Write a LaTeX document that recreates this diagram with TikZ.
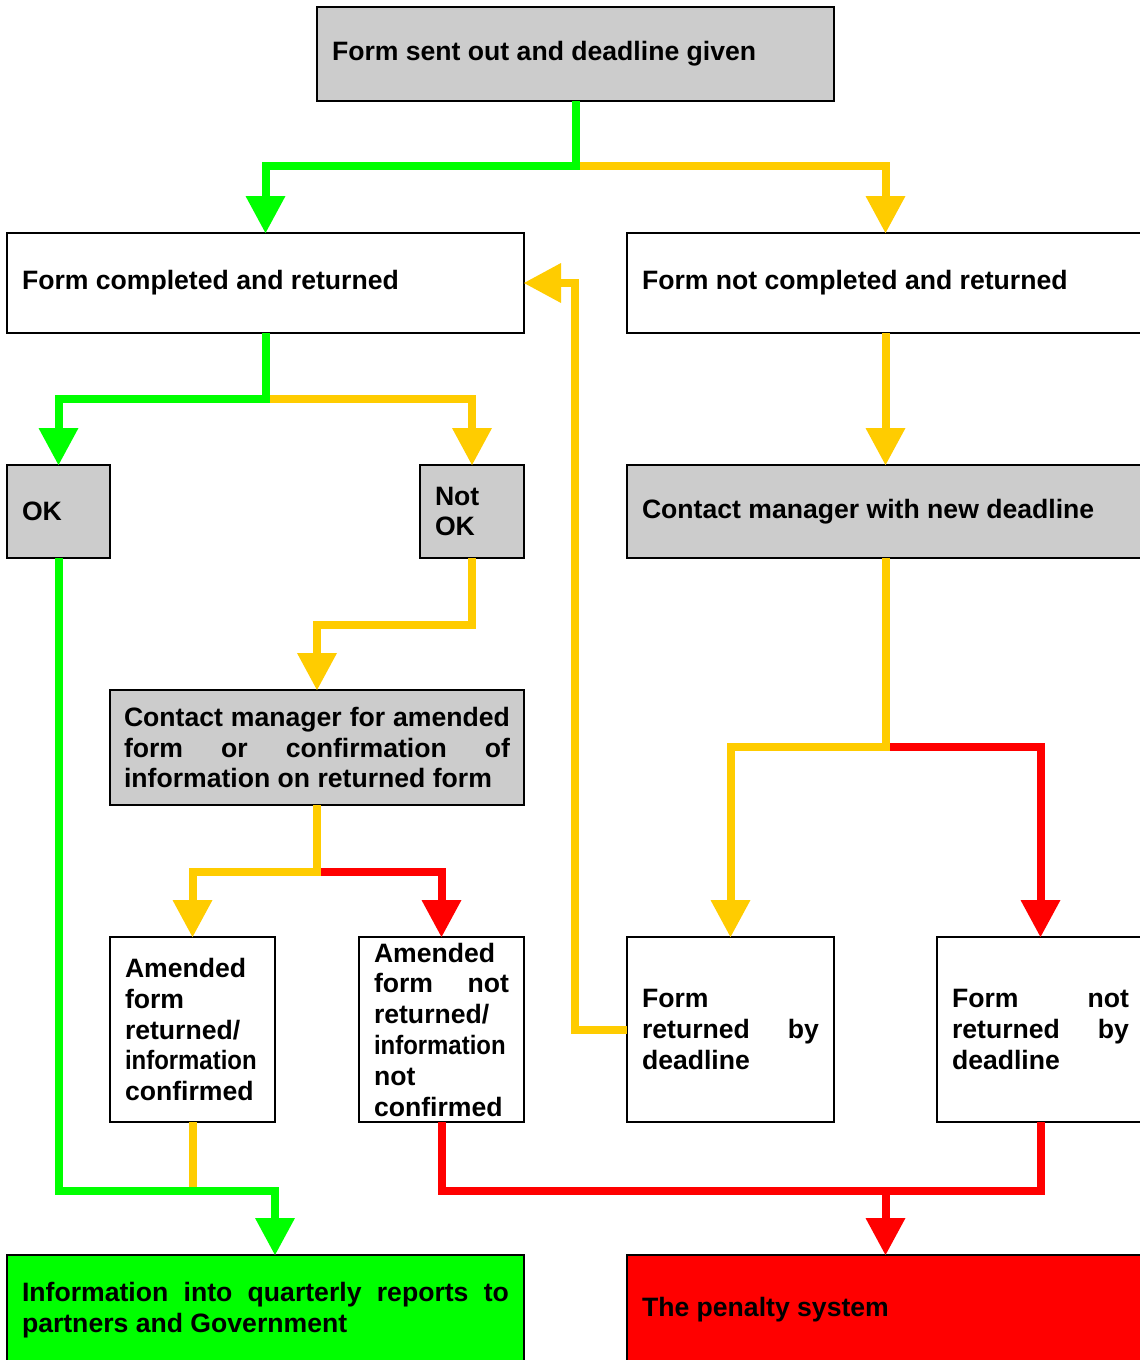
\documentclass[tikz,border=0pt]{standalone}
\usepackage{graphicx}
\usepackage{fontspec}
\setmainfont{Liberation Sans}
\usetikzlibrary{arrows.meta}
\definecolor{lgreen}{HTML}{00FF00}
\definecolor{lyellow}{HTML}{FFCC00}
\definecolor{lred}{HTML}{FF0000}
\definecolor{lgrey}{HTML}{CCCCCC}
\begin{document}
\begin{tikzpicture}[x=1pt,y=-1pt,
    box/.style={draw,line width=2.5pt,anchor=north west,outer sep=0pt,inner xsep=15pt,inner ysep=0pt,
        align=justify,font=\fontsize{26.6pt}{30.8pt}\selectfont\bfseries},
    grey/.style={box,fill=lgrey},
    conn/.style={line width=8pt,line join=miter},
    arr/.style={conn,-{Triangle[length=37pt,width=40pt,line width=0pt]}}]
    \useasboundingbox (0,0) rectangle (1140,1360);
    \fill[white] (0,0) rectangle (1140,1360);
    % boxes
    \node[grey,text width=487pt,minimum height=94pt] (sent) at (317,7) {Form sent out and deadline given};
    \node[box,text width=487pt,minimum height=100pt] (done) at (7,233) {Form completed and returned};
    \node[box,text width=487pt,minimum height=100pt] (notdone) at (627,233) {Form not completed and returned};
    \node[grey,text width=73pt,minimum height=93pt] (ok) at (7,465) {OK};
    \node[grey,text width=74pt,minimum height=93pt] (notok) at (420,465) {Not\\ OK};
    \node[grey,text width=487pt,minimum height=93pt] (newdl) at (627,465) {Contact manager with new deadline};
    \node[grey,text width=386pt,inner xsep=14pt,minimum height=115pt] (amend) at (110,690)
        {Contact manager for amended\linebreak form or confirmation of\linebreak information on returned form};
    \node[box,text width=135pt,minimum height=185pt] (ret) at (110,937)
        {Amended\\ form\\ returned/\\ \scalebox{0.9}[1]{information}\\ confirmed};
    \node[box,text width=135pt,minimum height=185pt] (noret) at (359,937)
        {Amended\\ form not\linebreak returned/\\ \scalebox{0.9}[1]{information}\\ not\\ confirmed};
    \node[box,text width=177pt,minimum height=185pt] (byd) at (627,937) {Form\\ returned by\linebreak deadline};
    \node[box,text width=177pt,minimum height=185pt] (notbyd) at (937,937) {Form not\linebreak returned by\linebreak deadline};
    \node[box,fill=lgreen,text width=487pt,minimum height=110pt] (info) at (7,1255)
        {Information into quarterly reports to\linebreak partners and Government};
    \node[box,fill=lred,text width=487pt,minimum height=110pt] (pen) at (627,1255) {The penalty system};
    % branch points
    \coordinate (s1) at (575.5,166);
    \coordinate (s2) at (265.5,399);
    \coordinate (s3) at (317,872);
    \coordinate (s4) at (885.5,747);
    \coordinate (s5) at (275,1191);
    \coordinate (s6) at (885.5,1191);
    % connectors
    \draw[arr,lyellow] (s1) -| (notdone.north);
    \draw[arr,lgreen] (sent.south) -- (s1) -| (done.north);
    \draw[arr,lyellow] (s2) -| (notok.north);
    \draw[arr,lgreen] (done.south) -- (s2) -| (ok.north);
    \draw[arr,lyellow] (notdone.south) -- (newdl.north);
    \draw[arr,lyellow] (notok.south) -- ++(0,67) -| (amend.north);
    \draw[arr,lred] (s3) -| (noret.north);
    \draw[arr,lyellow] (amend.south) -- (s3) -| (ret.north);
    \draw[arr,lred] (s4) -| (notbyd.north);
    \draw[arr,lyellow] (newdl.south) -- (s4) -| (byd.north);
    \draw[arr,lyellow] (byd.west) -- ++(-52,0) |- (done.east);
    \draw[conn,lyellow] (ret.south) -- (ret.south |- s5);
    \draw[arr,lgreen] (ok.south) |- (s5) -- (info.north -| s5);
    \draw[conn,lred] (noret.south) -- (noret.south |- s6) -| (notbyd.south);
    \draw[arr,lred] (s6) -- (pen.north);
\end{tikzpicture}
\end{document}
